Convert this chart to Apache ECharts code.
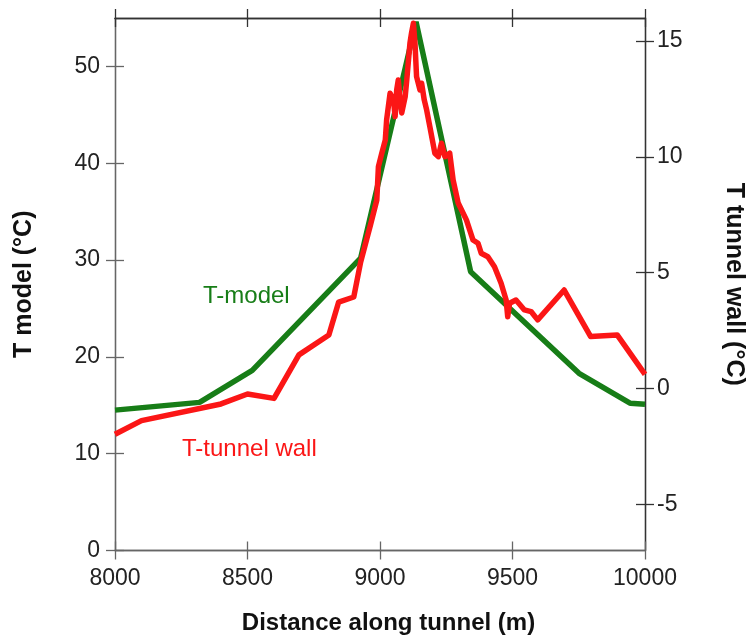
<!DOCTYPE html>
<html>
<head>
<meta charset="utf-8">
<title>T model vs T tunnel wall</title>
<script src="https://cdn.jsdelivr.net/npm/echarts@6/dist/echarts.min.js"></script>
<style>
  html, body { margin: 0; padding: 0; background: #fff; }
  #chart { width: 754px; height: 642px; }
</style>
</head>
<body>
<div id="chart"></div>
<script>
// distance along tunnel (m) / modelled temperature (left axis, °C)
var modelDist = [8000, 8319, 8518, 8927, 9136, 9342, 9751, 9945, 10000];
var modelTemp = [14.5, 15.3, 18.6, 30.2, 54.6, 28.8, 18.3, 15.2, 15.1];

// distance along tunnel (m) / measured tunnel wall temperature (right axis, °C)
var wallDist = [8000, 8100, 8400, 8500, 8600, 8694, 8807, 8844, 8901, 8927,
                8949, 8964, 8988, 8994, 9007, 9020, 9025, 9038, 9051, 9057,
                9063, 9069, 9076, 9082, 9095, 9101, 9113, 9119, 9126, 9132,
                9138, 9151, 9157, 9167, 9176, 9188, 9207, 9220, 9232, 9245,
                9263, 9276, 9295, 9326, 9351, 9370, 9382, 9407, 9432, 9457,
                9476, 9482, 9489, 9513, 9545, 9570, 9595, 9695, 9795, 9895,
                10000];
var wallTemp = [-1.98, -1.39, -0.67, -0.24, -0.43, 1.45, 2.31, 3.73, 3.95, 5.46,
                6.41, 7.06, 8.14, 9.58, 10.17, 10.73, 11.60, 12.75, 12.46, 11.74,
                12.89, 13.32, 12.46, 11.90, 12.60, 13.32, 14.91, 15.35, 15.77, 14.91,
                13.47, 12.89, 13.18, 12.46, 12.03, 11.31, 10.16, 10.01, 10.59, 10.01,
                10.16, 9.00, 8.01, 7.28, 6.41, 6.27, 5.84, 5.69, 5.26, 4.54,
                3.82, 3.10, 3.68, 3.82, 3.39, 3.32, 2.96, 4.25, 2.24, 2.31,
                0.61];

var xTicks     = [8000, 8500, 9000, 9500, 10000];
var leftTicks  = [0, 10, 20, 30, 40, 50];
var rightTicks = [-5, 0, 5, 10, 15];

var FONT  = 'Liberation Sans, Arial, sans-serif';
var GREEN = '#177d17';
var RED   = '#fb1616';

function pairs(xs, ys) {
  var out = [];
  for (var i = 0; i < xs.length; i++) out.push([xs[i], ys[i]]);
  return out;
}

function plain(v) { return String(v); }

// one axis drawn outside + one copy drawn inside gives the crossing ticks
function xAx(pos, inside, labels, color) {
  return {
    type: 'value', position: pos, min: 8000, max: 10000,
    axisLine: {show: true, onZero: false, lineStyle: {color: color, width: 1.3}},
    axisTick: {show: true, inside: inside, length: 9, customValues: xTicks,
               lineStyle: {color: color, width: 1.3}},
    axisLabel: {show: labels, customValues: xTicks, margin: 17, formatter: plain,
                color: '#222', fontSize: 23, fontFamily: FONT},
    splitLine: {show: false}
  };
}

function yAx(pos, min, max, ticks, inside, labels, color, margin) {
  return {
    type: 'value', position: pos, min: min, max: max,
    axisLine: {show: true, onZero: false, lineStyle: {color: color, width: 1.3}},
    axisTick: {show: true, inside: inside, length: 9, customValues: ticks,
               lineStyle: {color: color, width: 1.3}},
    axisLabel: {show: labels, customValues: ticks, margin: margin, formatter: plain,
                color: '#222', fontSize: 23, fontFamily: FONT},
    splitLine: {show: false}
  };
}

var chart = echarts.init(document.getElementById('chart'));

var xBottom = xAx('bottom', false, true, '#666');
xBottom.name = 'Distance along tunnel (m)';
xBottom.nameLocation = 'middle';
xBottom.nameGap = 61;
xBottom.nameTextStyle = {fontSize: 24, fontWeight: 'bold', color: '#111',
                         fontFamily: FONT, padding: [0, 0, 0, 17]};

var yLeft = yAx('left', 0, 55, leftTicks, false, true, '#666', 15);
yLeft.name = 'T model (°C)';
yLeft.nameLocation = 'middle';
yLeft.nameGap = 78;
yLeft.nameTextStyle = {fontSize: 25, fontWeight: 'bold', color: '#111', fontFamily: FONT};

var yRight = yAx('right', -7, 16, rightTicks, false, true, '#333', 12);
yRight.name = 'T tunnel wall (°C)';
yRight.nameLocation = 'middle';
yRight.nameRotate = -90;
yRight.nameGap = 76;
yRight.nameTextStyle = {fontSize: 25, fontWeight: 'bold', color: '#111', fontFamily: FONT};

var option = {
  animation: false,
  backgroundColor: '#fff',
  grid: {left: 115, right: 106, top: 18, bottom: 91.5},
  xAxis: [
    xBottom,
    xAx('bottom', true, false, '#666'),
    xAx('top', false, false, '#333'),
    xAx('top', true, false, '#333')
  ],
  yAxis: [
    yLeft,
    yAx('left', 0, 55, leftTicks, true, false, '#666', 15),
    yRight,
    yAx('right', -7, 16, rightTicks, true, false, '#333', 12)
  ],
  series: [{
    name: 'T-model',
    type: 'line',
    xAxisIndex: 0, yAxisIndex: 0,
    showSymbol: false,
    lineStyle: {color: GREEN, width: 5.5},
    data: pairs(modelDist, modelTemp)
  }, {
    name: 'T-tunnel wall',
    type: 'line',
    xAxisIndex: 0, yAxisIndex: 2,
    showSymbol: false,
    lineStyle: {color: RED, width: 5.5, join: 'round'},
    data: pairs(wallDist, wallTemp)
  }],
  graphic: [
    {type: 'text', left: 203, top: 284,
     style: {text: 'T-model', fill: GREEN, font: '24px ' + FONT}},
    {type: 'text', left: 182, top: 437,
     style: {text: 'T-tunnel wall', fill: RED, font: '24px ' + FONT}}
  ]
};

chart.setOption(option);
</script>
</body>
</html>
